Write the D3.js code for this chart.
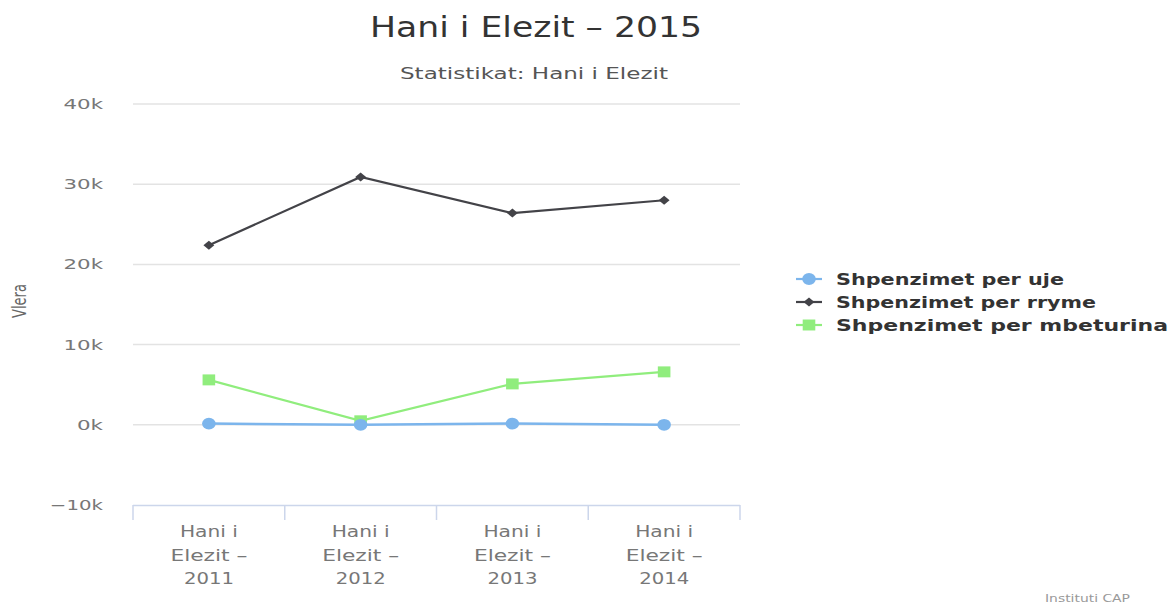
<!DOCTYPE html>
<html><head><meta charset="utf-8">
<script src="https://cdn.jsdelivr.net/npm/d3@7"></script>
<style>body{margin:0;background:#fff}svg{display:block}text{font-family:"DejaVu Sans",sans-serif}</style>
</head><body>
<svg id="c" width="1173" height="605"></svg>
<script>
const categories = [["Hani i","Elezit –","2011"],["Hani i","Elezit –","2012"],["Hani i","Elezit –","2013"],["Hani i","Elezit –","2014"]];
const seriesNames = ["Shpenzimet per uje","Shpenzimet per rryme","Shpenzimet per mbeturina"];
const uje = [150, 0, 150, 0];
const rryme = [22400, 30900, 26400, 28000];
const mbeturina = [5600, 500, 5100, 6600];
const yTicks = [-10000, 0, 10000, 20000, 30000, 40000];
const yTickLabels = ["−10k","0k","10k","20k","30k","40k"];
const colors = ["#7cb5ec","#434348","#90ed7d"];

const svg = d3.select("#c");
const x = d3.scaleBand().domain(d3.range(categories.length)).range([133, 740]);
const y = d3.scaleLinear().domain([-10000, 40000]).range([505, 104]);

function stretch(sel, w){ sel.attr("textLength", w).attr("lengthAdjust","spacingAndGlyphs"); return sel; }

// title
stretch(svg.append("text").attr("x",536).attr("y",37).attr("text-anchor","middle")
  .attr("font-size",28).attr("fill","#333").text("Hani i Elezit – 2015"),332);
stretch(svg.append("text").attr("x",534).attr("y",79).attr("text-anchor","middle")
  .attr("font-size",15).attr("fill","#555").text("Statistikat: Hani i Elezit"),268);

// gridlines
svg.append("g").selectAll("line").data(yTicks.filter(d=>d>-10000)).join("line")
  .attr("x1",133).attr("x2",740).attr("y1",d=>y(d)).attr("y2",d=>y(d))
  .attr("stroke","#e3e3e3").attr("stroke-width",1.5);

// y labels
svg.append("g").selectAll("text").data(yTicks).join("text")
  .attr("x",103).attr("y",d=>y(d)+5).attr("text-anchor","end")
  .attr("font-size",14).attr("fill","#777").text((d,i)=>yTickLabels[i])
  .each(function(d,i){ d3.select(this).attr("textLength", yTickLabels[i].length*13.5-1).attr("lengthAdjust","spacingAndGlyphs"); });

// y title
stretch(svg.append("text").attr("transform","translate(26,301) rotate(-90) scale(1,1.3)").attr("text-anchor","middle")
  .attr("font-size",15).attr("fill","#666").text("Vlera"),34);

// x axis
svg.append("line").attr("x1",133).attr("x2",740).attr("y1",505.5).attr("y2",505.5).attr("stroke","#ccd6eb").attr("stroke-width",1.5);
const bounds = d3.range(categories.length+1).map(i => i<categories.length ? x(i) : x(i-1)+x.bandwidth());
svg.append("g").selectAll("line").data(bounds).join("line")
  .attr("x1",d=>d).attr("x2",d=>d).attr("y1",505).attr("y2",520).attr("stroke","#ccd6eb").attr("stroke-width",1.5);
const lineW = [58,77,50];
categories.forEach((lines,i)=>{
  lines.forEach((t,j)=>{
    stretch(svg.append("text").attr("x",x(i)+x.bandwidth()/2).attr("y",537+j*23.5).attr("text-anchor","middle")
      .attr("font-size",16).attr("fill","#777").text(t), lineW[j]);
  });
});

// series
const data = [uje, rryme, mbeturina];
const line = d3.line().x((d,i)=>x(i)+x.bandwidth()/2).y(d=>y(d));
const symbols = [d3.symbolCircle, d3.symbolSquare, d3.symbolSquare];
const symSizes = [110, 45, 120];
const symXf = [" scale(1.15,1)", " scale(1.15,0.95) rotate(45)", " scale(1.15,1)"];
const order = [2,1,0];
order.forEach(k=>{
  svg.append("path").datum(data[k]).attr("d",line).attr("fill","none")
    .attr("stroke",colors[k]).attr("stroke-width", k===0?2.5:2.2);
});
order.forEach(k=>{
  svg.append("g").selectAll("path").data(data[k]).join("path")
    .attr("transform",(d,i)=>`translate(${x(i)+x.bandwidth()/2},${y(d)})${symXf[k]}`)
    .attr("d", d3.symbol().type(symbols[k]).size(symSizes[k])).attr("fill",colors[k]);
});

// legend
const legW = [228, 260, 332];
seriesNames.forEach((n,i)=>{
  const cy = 279 + i*23;
  svg.append("line").attr("x1",796).attr("x2",822).attr("y1",cy).attr("y2",cy).attr("stroke",colors[i]).attr("stroke-width",2.2);
  svg.append("path").attr("transform",`translate(809,${cy})${symXf[i]}`)
    .attr("d", d3.symbol().type(symbols[i]).size(symSizes[i])).attr("fill",colors[i]);
  stretch(svg.append("text").attr("x",836).attr("y",cy+6).attr("font-size",16).attr("font-weight","bold")
    .attr("fill","#333").text(n), legW[i]);
});

// credits
stretch(svg.append("text").attr("x",1130).attr("y",602).attr("text-anchor","end")
  .attr("font-size",11).attr("fill","#999").text("Instituti CAP"),85);
</script>
</body></html>
